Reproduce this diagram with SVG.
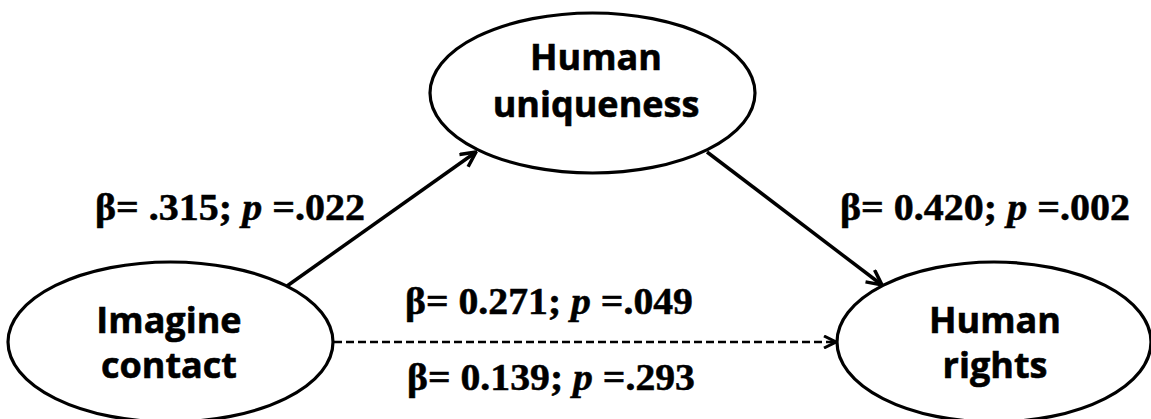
<svg xmlns="http://www.w3.org/2000/svg" width="1151" height="419" viewBox="0 0 1151 419">
<style>
.node{fill:#fff;stroke:#000;stroke-width:3.2}
.nt{font-family:"Open Sans","Liberation Sans",sans-serif;font-weight:bold;font-size:36px;text-anchor:middle;fill:#000;stroke:#000;stroke-width:0.6}
.lbl{font-family:"Liberation Serif","Times New Roman",serif;font-weight:bold;font-size:37px;fill:#000;stroke:#000;stroke-width:0.5}
.conn{stroke:#000;stroke-width:3.5;fill:none}
.dash{stroke:#000;stroke-width:2.5;fill:none;stroke-dasharray:8 4}
</style>
<defs>
<marker id="arr" viewBox="0 0 14 14" refX="13" refY="7" markerWidth="14" markerHeight="14" markerUnits="userSpaceOnUse" orient="auto">
<path d="M1,1 L13,7 L1,13" fill="none" stroke="#000" stroke-width="3"/>
</marker>
<marker id="arr2" viewBox="0 0 18 18" refX="16.5" refY="9" markerWidth="18" markerHeight="18" markerUnits="userSpaceOnUse" orient="auto">
<path d="M1.5,1.5 L16.5,9 L1.5,16.5" fill="none" stroke="#000" stroke-width="3.5"/>
</marker>
</defs>
<rect width="1151" height="419" fill="#fff"/>
<g id="connectors">
<line class="conn" x1="287" y1="286" x2="476" y2="152" marker-end="url(#arr2)"/>
<line class="conn" x1="707" y1="152" x2="882" y2="285" marker-end="url(#arr2)"/>
<line class="dash" x1="334" y1="342" x2="836" y2="342" marker-end="url(#arr)"/>
</g>
<g id="imagine-contact">
<ellipse class="node" cx="170.5" cy="342" rx="162.5" ry="80"/>
<text class="nt" x="169" y="333">Imagine</text>
<text class="nt" x="169" y="378">contact</text>
</g>
<g id="human-uniqueness">
<ellipse class="node" cx="592.5" cy="93" rx="162.5" ry="80"/>
<text class="nt" x="596" y="70">Human</text>
<text class="nt" x="596" y="117">uniqueness</text>
</g>
<g id="human-rights">
<ellipse class="node" cx="994" cy="342" rx="157" ry="80"/>
<text class="nt" x="995" y="333">Human</text>
<text class="nt" x="995" y="378">rights</text>
</g>
<g id="labels">
<text class="lbl" x="95" y="220" textLength="270" lengthAdjust="spacingAndGlyphs">β= .315; <tspan font-style="italic">p</tspan> =.022</text>
<text class="lbl" x="840" y="220" textLength="290" lengthAdjust="spacingAndGlyphs">β= 0.420; <tspan font-style="italic">p</tspan> =.002</text>
<text class="lbl" x="405" y="314" textLength="288" lengthAdjust="spacingAndGlyphs">β= 0.271; <tspan font-style="italic">p</tspan> =.049</text>
<text class="lbl" x="407" y="390" textLength="288" lengthAdjust="spacingAndGlyphs">β= 0.139; <tspan font-style="italic">p</tspan> =.293</text>
</g>
</svg>
